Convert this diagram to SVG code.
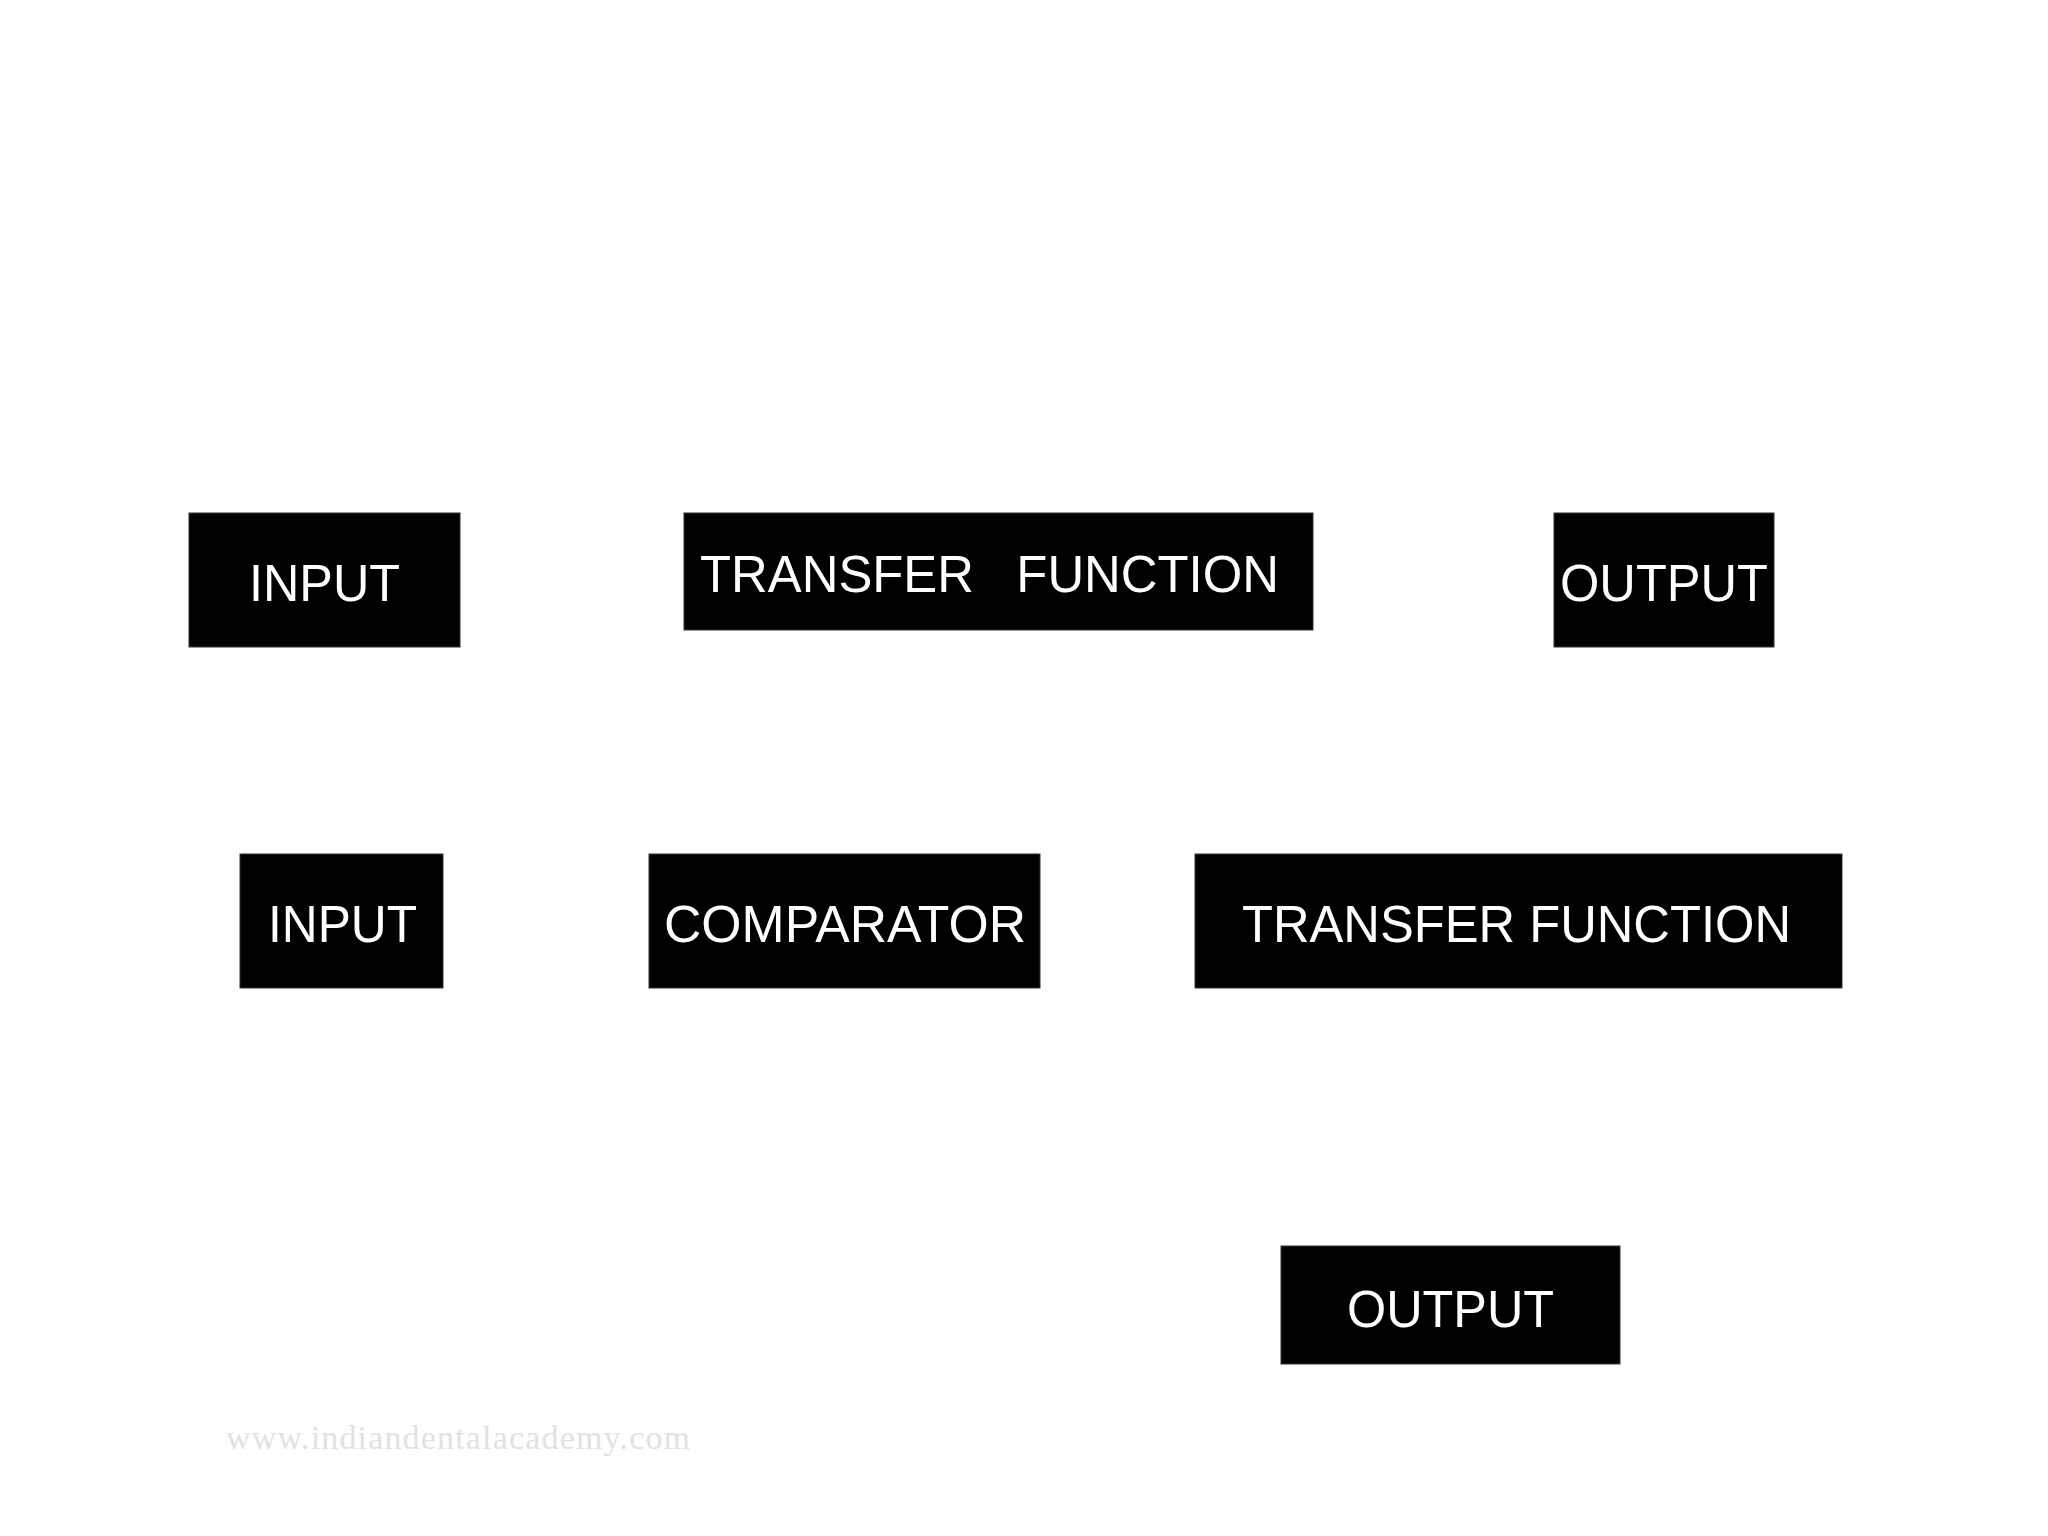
<svg xmlns="http://www.w3.org/2000/svg" width="2048" height="1536" viewBox="0 0 2048 1536">
<style>
.box{fill:#000;stroke:#333;stroke-width:1}
.lbl{fill:#fff;font-family:"Liberation Sans",Arial,sans-serif;font-size:52px;white-space:pre}
.wm{fill:#e2e2e2;font-family:"Liberation Serif","Times New Roman",serif;font-size:34px}
</style>
<rect width="2048" height="1536" fill="#fff"/>
<g id="connectors"></g>
<g id="input1"><rect class="box" x="189" y="513" width="271" height="134"/><text class="lbl" x="249" y="601" textLength="151" lengthAdjust="spacingAndGlyphs">INPUT</text></g>
<g id="transfer1"><rect class="box" x="684" y="513" width="629" height="117"/><text class="lbl" x="700" y="592" font-size="51" textLength="579" lengthAdjust="spacingAndGlyphs" xml:space="preserve">TRANSFER   FUNCTION</text></g>
<g id="output1"><rect class="box" x="1554" y="513" width="220" height="134"/><text class="lbl" x="1560" y="601" textLength="208" lengthAdjust="spacingAndGlyphs">OUTPUT</text></g>
<g id="input2"><rect class="box" x="240" y="854" width="203" height="134"/><text class="lbl" x="268" y="942" textLength="149" lengthAdjust="spacingAndGlyphs">INPUT</text></g>
<g id="comparator"><rect class="box" x="649" y="854" width="391" height="134"/><text class="lbl" x="664" y="942" textLength="362" lengthAdjust="spacingAndGlyphs">COMPARATOR</text></g>
<g id="transfer2"><rect class="box" x="1195" y="854" width="647" height="134"/><text class="lbl" x="1242" y="942" textLength="549" lengthAdjust="spacingAndGlyphs">TRANSFER FUNCTION</text></g>
<g id="output2"><rect class="box" x="1281" y="1246" width="339" height="118"/><text class="lbl" x="1347" y="1327" textLength="207" lengthAdjust="spacingAndGlyphs">OUTPUT</text></g>
<text class="wm" x="226" y="1449" textLength="464" lengthAdjust="spacing">www.indiandentalacademy.com</text>
</svg>
